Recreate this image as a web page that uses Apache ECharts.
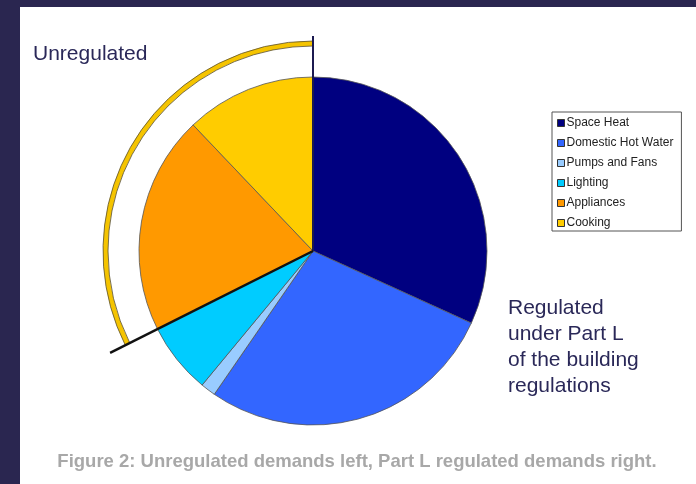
<!DOCTYPE html>
<html>
<head>
<meta charset="utf-8">
<script src="https://cdn.jsdelivr.net/npm/echarts@6/dist/echarts.min.js"></script>
<style>
  html, body { margin: 0; padding: 0; background: #2a2650; }
  #main { width: 696px; height: 484px; }
</style>
</head>
<body>
<div id="main"></div>
<script>
// data (percent of total demand)
var categories = ["Space Heat", "Domestic Hot Water", "Pumps and Fans", "Lighting", "Appliances", "Cooking"];
var shares = [31.8, 27.8, 1.4, 6.6, 20.3, 12.1];
var colors = ["#000080", "#3366ff", "#99ccff", "#00ccff", "#ff9900", "#ffcc00"];
var regulatedCount = 4; // first four are regulated under Part L
var noteLines = ["Regulated", "under Part L", "of the building", "regulations"];
var caption = "Figure 2: Unregulated demands left, Part L regulated demands right.";

var myChart = echarts.init(document.getElementById("main"));

var cx = 313, cy = 251, r = 174;
var total = shares.reduce(function (a, b) { return a + b; }, 0);
var regulated = shares.slice(0, regulatedCount).reduce(function (a, b) { return a + b; }, 0);
var unregulated = total - regulated;

// angle (clockwise from 12 o'clock) of the regulated / unregulated split
var splitAngle = regulated / total * Math.PI * 2;
function pointAt(angle, len) {
  return [cx + len * Math.sin(angle), cy - len * Math.cos(angle)];
}
var splitEnd = pointAt(splitAngle, 227);
var topEnd = pointAt(0, 215);

var pieData = categories.map(function (name, i) {
  return {
    name: name,
    value: shares[i],
    itemStyle: { color: colors[i], borderColor: "#555", borderWidth: 0.8 }
  };
});

var option = {
  backgroundColor: "#2a2650",
  animation: false,
  legend: {
    orient: "vertical",
    left: 552,
    top: 112,
    data: categories,
    icon: "rect",
    itemWidth: 7,
    itemHeight: 7,
    itemGap: 8,
    padding: [5, 8, 2, 5],
    backgroundColor: "#fff",
    borderColor: "#555",
    borderWidth: 1,
    borderRadius: 0,
    itemStyle: { borderColor: "#333", borderWidth: 1 },
    textStyle: {
      fontFamily: "Liberation Sans, Arial, sans-serif",
      fontSize: 12,
      lineHeight: 12,
      color: "#222",
      padding: [0, 0, 0, -3]
    },
    selectedMode: false
  },
  graphic: [
    { type: "rect", z: -10, shape: { x: 20, y: 7, width: 676, height: 477 }, style: { fill: "#fff" } },
    {
      type: "text", left: 33, top: 44, z: 10,
      style: { text: "Unregulated", fill: "#2a2858", font: "21px 'Liberation Sans', Arial, sans-serif" }
    },
    {
      type: "text", left: 508, top: 295, z: 10,
      style: {
        text: noteLines.join("\n"), fill: "#2a2858", lineHeight: 26,
        font: "21px 'Liberation Sans', Arial, sans-serif"
      }
    },
    {
      type: "text", x: 357, y: 471, z: 10,
      style: {
        text: caption, fill: "#a8a8a8", align: "center", verticalAlign: "bottom",
        font: "bold 18.5px 'Liberation Sans', Arial, sans-serif"
      }
    },
    {
      type: "line", z: 100,
      shape: { x1: cx, y1: cy, x2: topEnd[0], y2: topEnd[1] },
      style: { stroke: "#1c1a50", lineWidth: 2 }
    },
    {
      type: "line", z: 100,
      shape: { x1: cx, y1: cy, x2: splitEnd[0], y2: splitEnd[1] },
      style: { stroke: "#111", lineWidth: 2.5 }
    }
  ],
  series: [
    {
      name: "Demand",
      type: "pie",
      center: [cx, cy],
      radius: [0, r],
      startAngle: 90,
      clockwise: true,
      label: { show: false },
      labelLine: { show: false },
      emphasis: { disabled: true },
      silent: true,
      data: pieData
    },
    {
      name: "Split",
      type: "pie",
      center: [cx, cy],
      radius: [205, 210],
      startAngle: 90,
      clockwise: true,
      label: { show: false },
      labelLine: { show: false },
      emphasis: { disabled: true },
      silent: true,
      data: [
        { name: "Regulated", value: regulated, itemStyle: { color: "rgba(0,0,0,0)", borderWidth: 0 } },
        { name: "Unregulated", value: unregulated, itemStyle: { color: "#f5c400", borderColor: "#5a5030", borderWidth: 0.8 } }
      ]
    }
  ]
};

option && myChart.setOption(option);
</script>
</body>
</html>
